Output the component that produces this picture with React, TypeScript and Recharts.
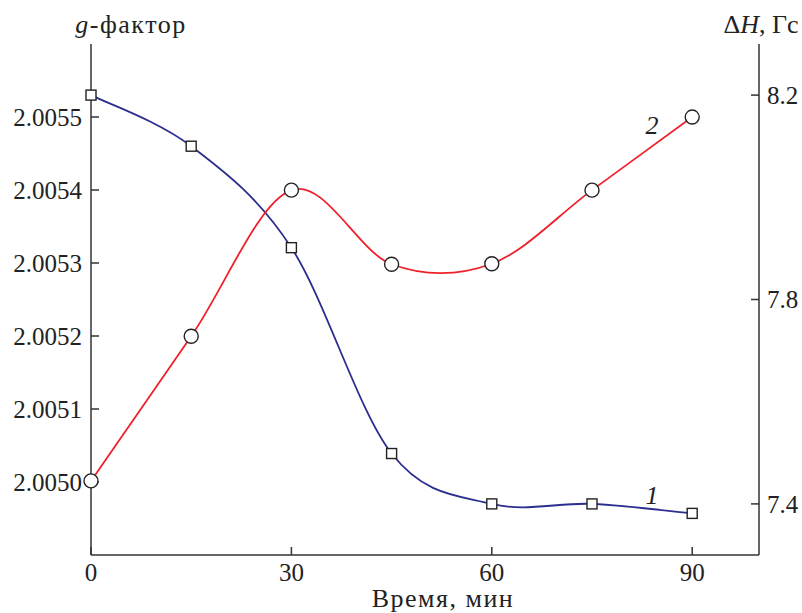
import React from 'react';
import { LineChart, Line, XAxis, YAxis, ReferenceDot } from 'recharts';

const times = [0, 15, 30, 45, 60, 75, 90];
const gFactor = [2.00553, 2.00546, 2.005321, 2.005039, 2.00497, 2.00497, 2.004957];
const deltaH = [7.445, 7.728, 8.014, 7.869, 7.87, 8.014, 8.157];
const xTicks = [0, 30, 60, 90];
const gTicks = [2.005, 2.0051, 2.0052, 2.0053, 2.0054, 2.0055];
const hTicks = [7.4, 7.8, 8.2];
const curveLabels = [
  { x: 84, y: 2.004982, axis: 'g', text: '1' },
  { x: 84, y: 8.142, axis: 'h', text: '2' },
];

const data = times.map((t, i) => ({ t, g: gFactor[i], h: deltaH[i] }));

const FONT = "'Liberation Serif', 'Times New Roman', serif";
const AXIS = '#333';
const tickStyle = { fill: '#222', fontSize: 25, fontFamily: FONT };

// Catmull-Rom style spline (cardinal, tension 0) as a d3-compatible curve factory
function smoothCurve(context: any) {
  let pts: number[][] = [];
  return {
    areaStart() {},
    areaEnd() {},
    lineStart() {
      pts = [];
    },
    point(x: number, y: number) {
      pts.push([+x, +y]);
    },
    lineEnd() {
      const n = pts.length;
      if (!n) return;
      context.moveTo(pts[0][0], pts[0][1]);
      for (let i = 0; i < n - 1; i++) {
        const p0 = pts[Math.max(i - 1, 0)];
        const p1 = pts[i];
        const p2 = pts[i + 1];
        const p3 = pts[Math.min(i + 2, n - 1)];
        context.bezierCurveTo(
          p1[0] + (p2[0] - p0[0]) / 6,
          p1[1] + (p2[1] - p0[1]) / 6,
          p2[0] - (p3[0] - p1[0]) / 6,
          p2[1] - (p3[1] - p1[1]) / 6,
          p2[0],
          p2[1]
        );
      }
    },
  };
}

const Square = (props: any) => {
  const { cx, cy, index } = props;
  return (
    <rect
      key={`sq-${index}`}
      x={cx - 5}
      y={cy - 5}
      width={10}
      height={10}
      fill="#fff"
      stroke="#222"
      strokeWidth={1.4}
    />
  );
};

export default function App() {
  return (
    <div style={{ position: 'absolute', left: 0, top: 0 }}>
      <LineChart
        width={802}
        height={613}
        data={data}
        margin={{ top: 44, right: 0, bottom: 0, left: 0 }}
      >
        <XAxis
          dataKey="t"
          type="number"
          domain={[0, 100]}
          ticks={xTicks}
          height={58}
          stroke={AXIS}
          strokeWidth={1.5}
          tickSize={-8}
          tickMargin={16}
          tick={tickStyle}
          label={{
            content: (p: any) => {
              const vb = p.viewBox || { x: 91, width: 668, y: 555 };
              return (
                <text
                  x={vb.x + vb.width / 2 + 18}
                  y={607}
                  textAnchor="middle"
                  fill="#222"
                  fontSize={26}
                  letterSpacing={1.5}
                  fontFamily={FONT}
                >
                  Время, мин
                </text>
              );
            },
          }}
        />
        <YAxis
          yAxisId="g"
          orientation="left"
          type="number"
          domain={[2.0049, 2.0056]}
          ticks={gTicks}
          width={91}
          stroke={AXIS}
          strokeWidth={1.5}
          tickSize={-8}
          tickMargin={17}
          tick={tickStyle}
          tickFormatter={(v: number) => v.toFixed(4)}
          label={{
            content: () => (
              <text
                x={131}
                y={33}
                textAnchor="middle"
                fill="#222"
                fontSize={26}
                letterSpacing={1.5}
                fontFamily={FONT}
              >
                <tspan fontStyle="italic">g</tspan>-фактор
              </text>
            ),
          }}
        />
        <YAxis
          yAxisId="h"
          orientation="right"
          type="number"
          domain={[7.3, 8.3]}
          ticks={hTicks}
          width={43}
          stroke={AXIS}
          strokeWidth={1.5}
          tickSize={-8}
          tickMargin={16}
          tick={tickStyle}
          tickFormatter={(v: number) => v.toFixed(1)}
          label={{
            content: () => (
              <text x={761} y={33} textAnchor="middle" fill="#222" fontSize={26} fontFamily={FONT}>
                Δ<tspan fontStyle="italic">H</tspan>, Гс
              </text>
            ),
          }}
        />
        <Line
          yAxisId="g"
          type={smoothCurve as any}
          dataKey="g"
          stroke="#2b2e8e"
          strokeWidth={1.8}
          dot={Square}
          activeDot={false}
          isAnimationActive={false}
        />
        <Line
          yAxisId="h"
          type={smoothCurve as any}
          dataKey="h"
          stroke="#f0202a"
          strokeWidth={1.8}
          dot={{ r: 7, fill: '#fff', stroke: '#222', strokeWidth: 1.4 }}
          activeDot={false}
          isAnimationActive={false}
        />
        {curveLabels.map((c) => (
          <ReferenceDot
            key={c.text}
            x={c.x}
            y={c.y}
            yAxisId={c.axis}
            r={0}
            fill="none"
            stroke="none"
            label={{
              value: c.text,
              position: 'center',
              fill: '#222',
              fontSize: 26,
              fontStyle: 'italic',
              fontFamily: FONT,
            }}
          />
        ))}
      </LineChart>
    </div>
  );
}
